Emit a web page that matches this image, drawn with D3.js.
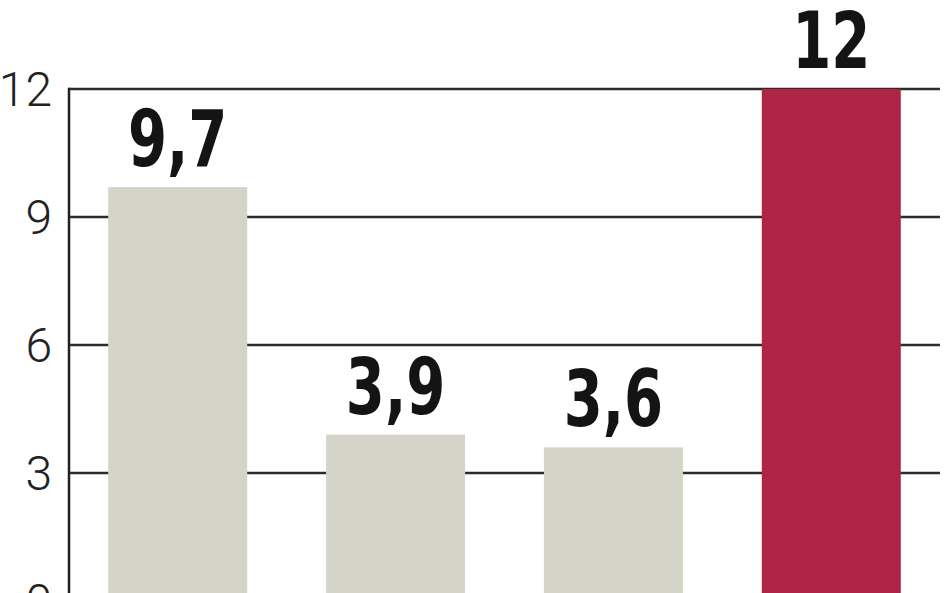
<!DOCTYPE html>
<html>
<head>
<meta charset="utf-8">
<script src="https://cdn.jsdelivr.net/npm/d3@7"></script>
<style>
  html, body { margin: 0; padding: 0; background: #fff; overflow: hidden; }
  svg { display: block; }
</style>
</head>
<body>
<svg id="chart" width="948" height="593"></svg>
<script>
// ---- data ----
const categories = ["A", "B", "C", "D"];
const values = [9.7, 3.9, 3.6, 12];
const valueLabels = ["9,7", "3,9", "3,6", "12"];
const highlight = [false, false, false, true];
const yTicks = [0, 3, 6, 9, 12];

// ---- layout ----
const svg = d3.select("#chart");
const plotLeft = 69, plotRight = 940, plotTop = 89, plotBottom = 601;

const x = d3.scaleBand()
  .domain(categories)
  .range([plotLeft, plotRight])
  .paddingInner(0.362)
  .paddingOuter(0.18);

const y = d3.scaleLinear().domain([0, 12]).range([plotBottom, plotTop]);

// gridlines
svg.append("g")
  .selectAll("line")
  .data(yTicks.filter(d => d > 0))
  .join("line")
  .attr("x1", plotLeft)
  .attr("x2", plotRight)
  .attr("y1", d => y(d))
  .attr("y2", d => y(d))
  .attr("stroke", "#2b2b2b")
  .attr("stroke-width", 2.5);

// y axis labels
const yAxis = svg.append("g")
  .attr("transform", `translate(${plotLeft},0)`)
  .call(d3.axisLeft(y).tickValues(yTicks).tickSize(0).tickPadding(17).tickFormat(d3.format("d")));
yAxis.select(".domain").remove();
yAxis.selectAll("text")
  .attr("font-family", "Roboto, 'Open Sans', sans-serif")
  .attr("font-weight", 300)
  .attr("font-size", 48)
  .attr("fill", "#222")
  .attr("dy", "0.35em");

// bars
svg.append("g")
  .selectAll("rect")
  .data(categories)
  .join("rect")
  .attr("x", d => x(d))
  .attr("width", x.bandwidth())
  .attr("y", (d, i) => y(values[i]))
  .attr("height", (d, i) => y(0) - y(values[i]))
  .attr("fill", (d, i) => highlight[i] ? "#ad2444" : "#d4d4c9");

// axis line
svg.append("line")
  .attr("x1", plotLeft).attr("x2", plotLeft)
  .attr("y1", plotTop - 1.25).attr("y2", 593)
  .attr("stroke", "#222")
  .attr("stroke-width", 2.5);

// value labels (horizontally condensed bold)
svg.append("g")
  .selectAll("text")
  .data(categories)
  .join("text")
  .attr("transform", (d, i) =>
    `translate(${x(d) + x.bandwidth() / 2},${y(values[i]) - 21}) scale(0.8,1)`)
  .attr("text-anchor", "middle")
  .attr("font-family", "'DejaVu Sans Condensed', 'DejaVu Sans', sans-serif")
  .attr("font-weight", 700)
  .attr("font-size", 78)
  .attr("fill", "#141414")
  .text((d, i) => valueLabels[i]);
</script>
</body>
</html>
